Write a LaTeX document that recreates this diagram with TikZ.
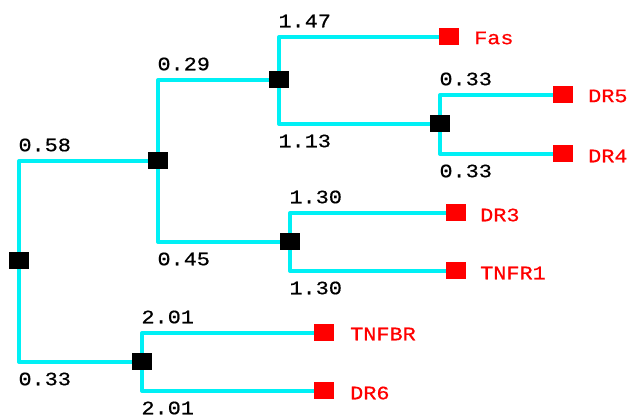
\documentclass[tikz,border=0pt]{standalone}
\usepackage{fontspec}
\newfontfamily\labfont[FakeStretch=1.15,FakeBold=0.6]{Liberation Mono}
\definecolor{branchcol}{RGB}{0,240,245}
\definecolor{leafcol}{RGB}{255,0,0}
\begin{document}
\begin{tikzpicture}[x=1pt,y=-1pt,
  inner/.style={fill=black,minimum width=20pt,minimum height=17pt,inner sep=0pt,outer sep=0pt},
  leaf/.style={fill=leafcol,minimum width=20pt,minimum height=17pt,inner sep=0pt,outer sep=0pt},
  leaftext/.style={text=leafcol,anchor=west,inner sep=0pt,font=\labfont\fontsize{19}{19}\selectfont},
  branch/.style={draw=branchcol,line width=4pt,line join=round},
  toplab/.style={pos=0.5,anchor=west,inner sep=0pt,xshift=-2.5pt,yshift=16pt,text=black,font=\labfont\fontsize{19}{19}\selectfont},
  botlab/.style={pos=0.5,anchor=west,inner sep=0pt,xshift=-2.5pt,yshift=-17pt,text=black,font=\labfont\fontsize{19}{19}\selectfont}]
\useasboundingbox[fill=white] (0,0) rectangle (632,419);
% internal nodes
\coordinate (Rc) at (19,261);
\coordinate (Ac) at (158,161);
\coordinate (Bc) at (279,80);
\coordinate (Cc) at (440,124);
\coordinate (Dc) at (290,242);
\coordinate (Ec) at (142,362);
% leaves
\node[leaf] (Fas) at (449,37) {};
\node[leaf] (DR5) at (563,95) {};
\node[leaf] (DR4) at (563,154) {};
\node[leaf] (DR3) at (456,213) {};
\node[leaf] (TNFR1) at (456,271) {};
\node[leaf] (TNFBR) at (324,333) {};
\node[leaf] (DR6) at (324,391) {};
% branches
\draw[branch] (Rc) |- node[toplab]{0.58} (Ac);
\draw[branch] (Rc) |- node[botlab]{0.33} (Ec);
\draw[branch] (Ac) |- node[toplab]{0.29} (Bc);
\draw[branch] (Ac) |- node[botlab]{0.45} (Dc);
\draw[branch] (Bc) |- node[toplab]{1.47} (Fas);
\draw[branch] (Bc) |- node[botlab]{1.13} (Cc);
\draw[branch] (Cc) |- node[toplab]{0.33} (DR5);
\draw[branch] (Cc) |- node[botlab]{0.33} (DR4);
\draw[branch] (Dc) |- node[toplab]{1.30} (DR3);
\draw[branch] (Dc) |- node[botlab]{1.30} (TNFR1);
\draw[branch] (Ec) |- node[toplab]{2.01} (TNFBR);
\draw[branch] (Ec) |- node[botlab]{2.01} (DR6);
% internal squares on top
\node[inner] (R) at (Rc) {};
\node[inner] (A) at (Ac) {};
\node[inner] (B) at (Bc) {};
\node[inner] (C) at (Cc) {};
\node[inner] (D) at (Dc) {};
\node[inner] (E) at (Ec) {};
% leaf names
\node[leaftext] (tFas) at (474,38) {Fas};
\node[leaftext] (tDR5) at (588,96) {DR5};
\node[leaftext] (tDR4) at (588,156) {DR4};
\node[leaftext] (tDR3) at (480,215) {DR3};
\node[leaftext] (tTNFR1) at (480,273) {TNFR1};
\node[leaftext] (tTNFBR) at (350,334) {TNFBR};
\node[leaftext] (tDR6) at (350,393) {DR6};
\end{tikzpicture}
\end{document}
